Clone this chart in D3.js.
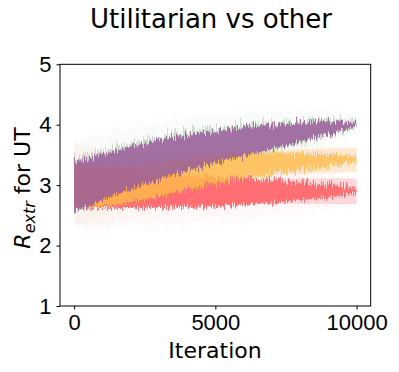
<!DOCTYPE html>
<html>
<head>
<meta charset="utf-8">
<script src="https://cdn.jsdelivr.net/npm/d3@7"></script>
<style>
  body { margin: 0; background: #fff; }
  svg { font-family: "DejaVu Sans", sans-serif; }
  .tick text { font-size: 22px; fill: #000; }
  .tick line, .domain { stroke: #000; }
</style>
</head>
<body>
<div id="chart"></div>
<script>
const w = 399;
const h = 372;
const m = { top: 64.3, right: 28.3, bottom: 66, left: 60 };

// iterations
const iterations = [0, 1000, 2000, 3000, 4000, 5000, 6000, 7000, 8000, 9000, 10000];
const xTicks = [0, 5000, 10000];
const yTicks = [1, 2, 3, 4, 5];

// centre, dense half-width and faint half-width of each run
const greenMean = [3.0, 3.15, 3.3, 3.44, 3.54, 3.64, 3.73, 3.81, 3.88, 3.95, 4.0];
const greenSpread = [0.44, 0.42, 0.39, 0.36, 0.33, 0.3, 0.27, 0.23, 0.18, 0.13, 0.05];
const greenFaint = [0.72, 0.68, 0.64, 0.6, 0.56, 0.52, 0.47, 0.42, 0.35, 0.26, 0.12];

const purpleMean = [2.98, 3.13, 3.28, 3.42, 3.53, 3.63, 3.72, 3.8, 3.88, 3.95, 4.0];
const purpleSpread = [0.42, 0.38, 0.35, 0.32, 0.3, 0.27, 0.24, 0.2, 0.16, 0.11, 0.03];

const orangeMean = [3.0, 2.98, 3.03, 3.11, 3.19, 3.26, 3.32, 3.36, 3.39, 3.41, 3.42];
const orangeSpread = [0.36, 0.33, 0.31, 0.29, 0.27, 0.24, 0.21, 0.18, 0.14, 0.1, 0.04];
const orangeFaint = [0.65, 0.6, 0.56, 0.52, 0.48, 0.44, 0.4, 0.36, 0.32, 0.26, 0.2];
const orangeStd = [0.2, 0.2, 0.2, 0.2, 0.2, 0.2, 0.2, 0.2, 0.2, 0.2, 0.2];

const redMean = [3.0, 2.95, 2.92, 2.9, 2.9, 2.89, 2.89, 2.9, 2.9, 2.9, 2.9];
const redSpread = [0.36, 0.33, 0.3, 0.28, 0.26, 0.24, 0.22, 0.19, 0.15, 0.11, 0.04];
const redFaint = [0.68, 0.64, 0.6, 0.57, 0.54, 0.5, 0.46, 0.42, 0.36, 0.28, 0.21];
const redStd = [0.21, 0.21, 0.21, 0.21, 0.21, 0.21, 0.21, 0.21, 0.21, 0.21, 0.21];

const svg = d3.select("#chart").append("svg").attr("width", w).attr("height", h);

// vertical jitter so band edges look like a noisy trace
const defs = svg.append("defs");
function jagFilter(id, scale, seed) {
  const f = defs.append("filter").attr("id", id).attr("x", "-5%").attr("y", "-40%").attr("width", "110%").attr("height", "180%");
  f.append("feTurbulence").attr("type", "fractalNoise").attr("baseFrequency", "1.1 0.02").attr("numOctaves", 2).attr("seed", seed).attr("result", "t");
  f.append("feColorMatrix").attr("in", "t").attr("type", "matrix")
    .attr("values", "0 0 0 0 0.5  0 1 0 0 0  0 0 0 0 0  0 0 0 0 1").attr("result", "n");
  f.append("feDisplacementMap").attr("in", "SourceGraphic").attr("in2", "n").attr("scale", scale)
    .attr("xChannelSelector", "R").attr("yChannelSelector", "G");
}
jagFilter("jag", 16, 3);
jagFilter("jag2", 24, 7);

const x = d3.scaleLinear().domain([-500, 10500]).range([m.left, w - m.right]);
const y = d3.scaleLinear().domain([1, 5]).range([h - m.bottom, m.top]);

const plot = svg.append("g");
const band = (mean, half) =>
  d3.area()
    .x((d, i) => x(iterations[i]))
    .y0((d, i) => y(mean[i] - half[i]))
    .y1((d, i) => y(mean[i] + half[i]))
    .curve(d3.curveMonotoneX)(iterations);

function draw(mean, half, color, op, jag) {
  plot.append("path")
    .attr("d", band(mean, half))
    .attr("fill", color)
    .attr("fill-opacity", op)
    .attr("filter", jag ? `url(#${jag})` : null);
}

// faint outer scatter
draw(greenMean, greenFaint, "#a8c0a8", 0.07, "jag2");
draw(redMean, redFaint, "#ff8088", 0.06, "jag2");
draw(orangeMean, orangeFaint, "#ffc080", 0.05, "jag2");
// std fills
draw(orangeMean, orangeStd, "#ffd0a0", 0.45, null);
draw(redMean, redStd, "#ffb4bc", 0.5, null);
// dense traces
draw(greenMean, greenSpread, "#90aa90", 0.4, "jag2");
draw(redMean, redSpread, "#ff5c60", 0.85, "jag");
draw(orangeMean, orangeSpread, "#ffbb4a", 0.8, "jag");
draw(purpleMean, purpleSpread, "#9a5e9a", 0.85, "jag");

svg.append("rect")
  .attr("x", m.left).attr("y", m.top)
  .attr("width", w - m.left - m.right).attr("height", h - m.top - m.bottom)
  .attr("fill", "none").attr("stroke", "#000").attr("stroke-width", 1);

svg.append("g")
  .attr("transform", `translate(0, ${h - m.bottom})`)
  .call(d3.axisBottom(x).tickValues(xTicks).tickFormat(d3.format("d")).tickSize(3.5).tickPadding(5))
  .call((g) => g.select(".domain").remove());

svg.append("g")
  .attr("transform", `translate(${m.left}, 0)`)
  .call(d3.axisLeft(y).tickValues(yTicks).tickFormat(d3.format("d")).tickSize(3.5).tickPadding(5))
  .call((g) => g.select(".domain").remove());

svg.append("text")
  .attr("x", 211).attr("y", 28)
  .attr("text-anchor", "middle")
  .attr("font-size", 26)
  .text("Utilitarian vs other");

svg.append("text")
  .attr("x", 215).attr("y", 358)
  .attr("text-anchor", "middle")
  .attr("font-size", 22)
  .text("Iteration");

const yl = svg.append("text")
  .attr("transform", "translate(30, 188) rotate(-90)")
  .attr("text-anchor", "middle")
  .attr("font-size", 22);
yl.append("tspan").attr("font-style", "italic").text("R");
yl.append("tspan").attr("font-size", 16).attr("font-style", "italic").attr("dy", 5).text("extr");
yl.append("tspan").attr("dy", -5).text(" for UT");
</script>
</body>
</html>
